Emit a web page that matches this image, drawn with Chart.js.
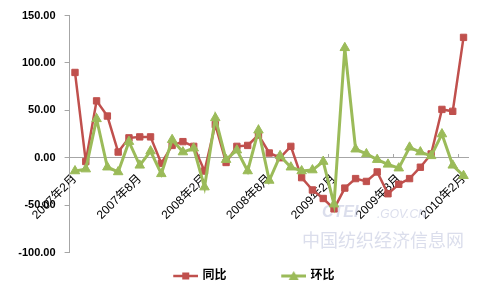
<!DOCTYPE html>
<html><head><meta charset="utf-8">
<script src="https://cdn.jsdelivr.net/npm/chart.js@4/dist/chart.umd.min.js"></script>
<style>html,body{margin:0;padding:0;background:#fff;overflow:hidden}</style>
</head><body>
<canvas id="c" width="492" height="299"></canvas>
<script>
const months = [
  '2007年2月','2007年3月','2007年4月','2007年5月','2007年6月','2007年7月','2007年8月','2007年9月','2007年10月','2007年11月','2007年12月',
  '2008年1月','2008年2月','2008年3月','2008年4月','2008年5月','2008年6月','2008年7月','2008年8月','2008年9月','2008年10月','2008年11月','2008年12月',
  '2009年1月','2009年2月','2009年3月','2009年4月','2009年5月','2009年6月','2009年7月','2009年8月','2009年9月','2009年10月','2009年11月','2009年12月',
  '2010年1月','2010年2月'
];
const tongbi = [90,-4,60,44,6,21,22,22,-6,13,17,12,-14,35,-5,12,13,24,5,0,12,-21,-34,-43,-54,-32,-22,-25,-15,-38,-28,-22,-10,4,51,49,127];
const huanbi = [-14,-12,41,-10,-15,17,-8,7,-17,19,6,10,-31,42,-2,8,-14,29,-24,2,-10,-14,-13,-4,-49,116,9,4,-2,-7,-11,11,6,2,25,-8,-19];
const yTicks = [-100,-50,0,50,100,150];
const seriesNames = ['同比','环比'];
const labelEvery = 6;

const RED = '#C0504D', GREEN = '#9BBB59';

function legendIcon(color, shape, lw) {
  const c = document.createElement('canvas');
  c.width = 64; c.height = 14;
  const g = c.getContext('2d');
  g.strokeStyle = color; g.lineWidth = lw;
  g.beginPath(); g.moveTo(39, 7); g.lineTo(64, 7); g.stroke();
  g.fillStyle = color;
  if (shape === 'rect') {
    g.fillRect(48, 3.5, 7, 7);
  } else {
    g.beginPath(); g.moveTo(51.5, 2); g.lineTo(56.5, 11); g.lineTo(46.5, 11); g.closePath(); g.fill();
  }
  return c;
}
const icons = [legendIcon(RED, 'rect', 2.5), legendIcon(GREEN, 'triangle', 3)];

const watermark = {
  id: 'watermark',
  beforeDatasetsDraw(chart) {
    const ctx = chart.ctx;
    ctx.save();
    ctx.fillStyle = 'rgba(190,195,220,0.55)';
    ctx.textBaseline = 'middle';
    ctx.font = '18px "Noto Sans CJK SC"';
    ctx.fillText('中国纺织经济信息网', 302, 240);
    ctx.font = 'italic bold 16px "Liberation Sans"';
    ctx.fillText('CTEI', 322, 213);
    ctx.font = 'italic 12px "Liberation Sans"';
    ctx.fillText('.GOV.CN', 377, 215);
    ctx.restore();
  }
};

new Chart(document.getElementById('c'), {
  type: 'line',
  data: {
    labels: months,
    datasets: [
      {
        label: seriesNames[0], data: tongbi,
        borderColor: RED, backgroundColor: RED, borderWidth: 2.5,
        pointStyle: 'rect', pointRadius: 4.5, pointBorderWidth: 1,
        pointBackgroundColor: RED, pointBorderColor: RED,
        tension: 0, order: 2
      },
      {
        label: seriesNames[1], data: huanbi,
        borderColor: GREEN, backgroundColor: GREEN, borderWidth: 3,
        pointStyle: 'triangle', pointRadius: 5.5, pointBorderWidth: 1,
        pointBackgroundColor: GREEN, pointBorderColor: GREEN,
        tension: 0, order: 1
      }
    ]
  },
  options: {
    responsive: false,
    animation: false,
    devicePixelRatio: 1,
    layout: { padding: { left: 0, right: 21.6, top: 15, bottom: 7 } },
    plugins: {
      tooltip: { enabled: false },
      legend: {
        position: 'bottom',
        labels: {
          usePointStyle: true,
          pointStyleWidth: 60.5,
          padding: 17.5,
          color: '#000',
          font: { size: 12, weight: 'bold', family: '"Liberation Sans", "Noto Sans CJK SC", sans-serif' },
          sort: (a, b) => a.datasetIndex - b.datasetIndex,
          generateLabels: (chart) => {
            const items = Chart.defaults.plugins.legend.labels.generateLabels(chart);
            items.forEach(it => { it.pointStyle = icons[it.datasetIndex]; });
            return items;
          }
        }
      }
    },
    scales: {
      x: {
        type: 'category',
        offset: true,
        position: { y: 0 },
        afterFit: (s) => { s.height = 0; },
        border: { display: true, color: '#A6A6A6', width: 1 },
        grid: {
          offset: true,
          drawOnChartArea: false,
          drawTicks: true,
          tickLength: -4,
          color: (ctx) => (ctx.index !== undefined && ctx.index % labelEvery === 0) ? '#A6A6A6' : 'rgba(0,0,0,0)'
        },
        ticks: {
          autoSkip: false,
          minRotation: 45,
          maxRotation: 45,
          padding: 18,
          color: '#000',
          font: { size: 12, family: '"Liberation Sans", "Noto Sans CJK SC", sans-serif' },
          callback: (v, i) => (i % labelEvery === 0 ? months[i] : '')
        }
      },
      y: {
        type: 'linear',
        position: 'left',
        min: yTicks[0],
        max: yTicks[yTicks.length - 1],
        afterFit: (s) => { s.width = 69.6; },
        afterBuildTicks: (s) => { s.ticks = yTicks.map(v => ({ value: v })); },
        border: { display: true, color: '#A6A6A6', width: 1 },
        grid: { drawOnChartArea: false, drawTicks: true, tickLength: 5, color: '#A6A6A6' },
        ticks: {
          padding: 9,
          color: '#000',
          font: { size: 11, weight: 'bold', family: '"Liberation Sans", sans-serif' },
          callback: (v) => Number(v).toFixed(2)
        }
      }
    }
  },
  plugins: [watermark]
});
</script>
</body></html>
